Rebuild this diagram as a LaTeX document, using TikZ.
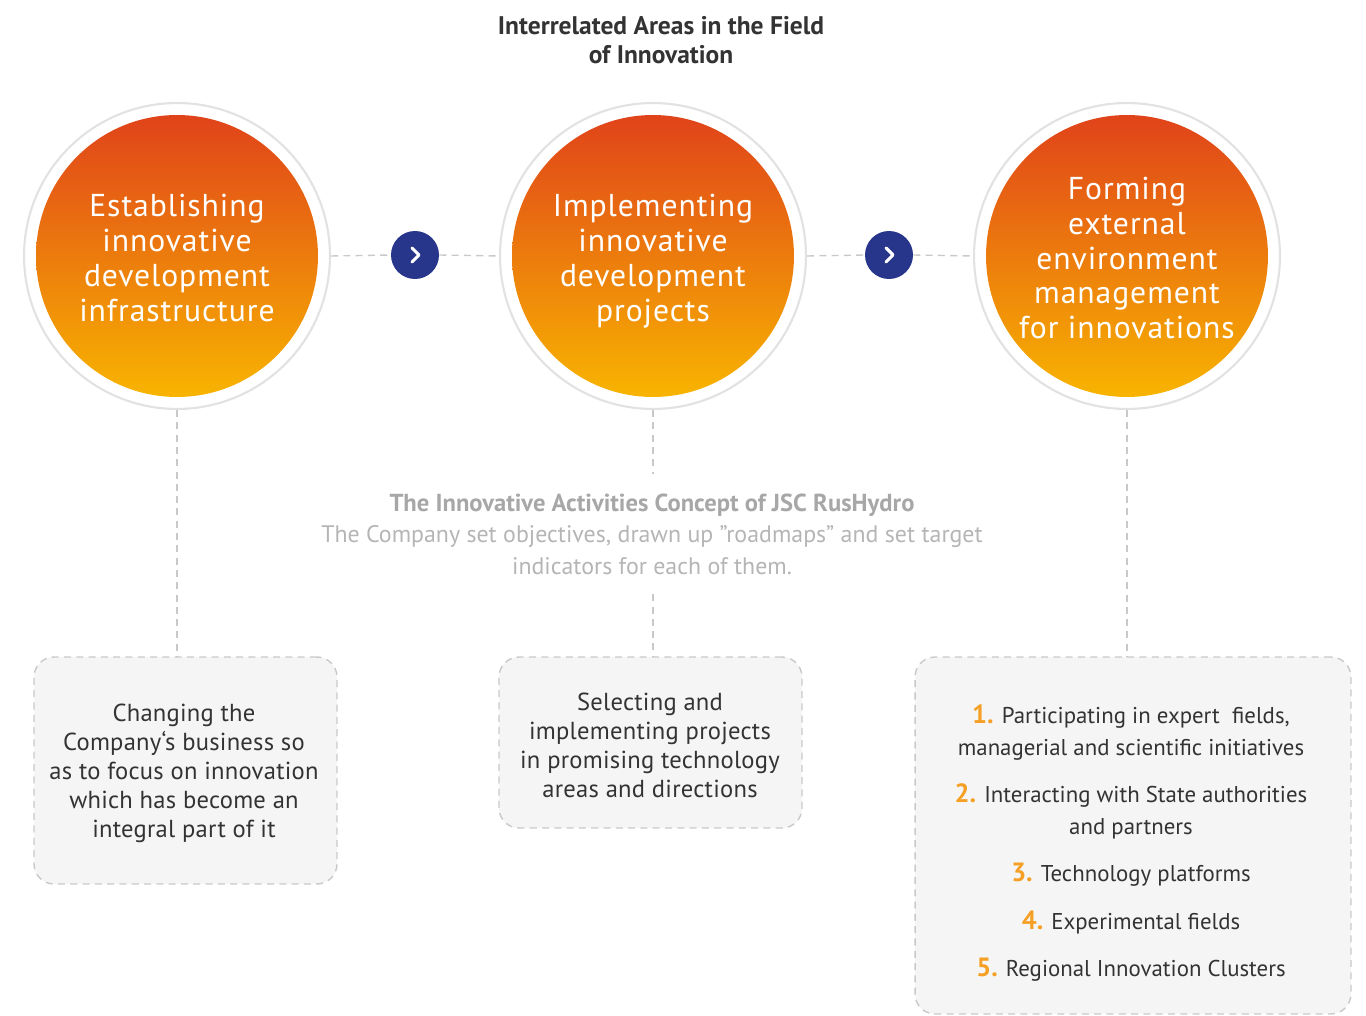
\documentclass[tikz,border=0pt]{standalone}
\usepackage{fontspec}
\setmainfont{PT Sans}
\usetikzlibrary{positioning,calc}
\definecolor{ringgray}{HTML}{E2E2E2}
\definecolor{dashgray}{HTML}{C9C9C9}
\definecolor{boxfill}{HTML}{F5F5F5}
\definecolor{navyblue}{HTML}{27358A}
\definecolor{firered}{HTML}{E0431A}
\definecolor{fireorange}{HTML}{F29A30}
\definecolor{fireyellow}{HTML}{F8B400}
\definecolor{numorange}{HTML}{F5A024}
\definecolor{textgray}{HTML}{333333}
\definecolor{notegray}{HTML}{B5B5B5}
\newcommand{\itemno}[1]{{\color{numorange}\fontsize{15}{18}\selectfont\bfseries #1.}}
\tikzset{
  ring/.style={circle,draw=ringgray,line width=1.2pt,fill=white,minimum size=6.12cm,inner sep=0pt},
  area/.style={circle,minimum size=5.64cm,inner sep=0pt,top color=firered,middle color=fireorange,bottom color=fireyellow},
  areatext/.style={align=center,text=white,font=\fontsize{18}{19.8}\selectfont\addfontfeature{LetterSpace=3}},
  chevron/.style={circle,fill=navyblue,minimum size=0.96cm,inner sep=0pt},
  link/.style={draw=dashgray,line width=0.8pt,dash pattern=on 4pt off 3pt},
  taskbox/.style={rectangle,rounded corners=0.4cm,draw=dashgray,line width=0.8pt,dash pattern=on 4pt off 3pt,
    fill=boxfill,inner sep=0pt},
  tasktext/.style={align=center,text=textgray,font=\fontsize{14}{16.5}\selectfont\addfontfeature{LetterSpace=1}}
}
\begin{document}
\begin{tikzpicture}[x=0.02cm,y=-0.02cm]
  \useasboundingbox (0,0) rectangle (1366,1016);
  \node[align=center,text=textgray,font=\fontsize{14.5}{16.4}\selectfont\bfseries] (title) at (661,40)
    {Interrelated Areas in the Field\\of Innovation};
  % circles
  \foreach \id/\x/\ty/\txt in {A/177/258/{Establishing\\innovative\\development\\infrastructure},
      B/653/261/{Implementing\\innovative\\development\\projects},
      C/1127/258/{Forming\\external\\environment\\management\\for innovations}}
    {\node[ring] (ring\id) at (\x,256) {};
     \node[area] (area\id) at (\x,256) {};
     \node[areatext] (label\id) at (\x,\ty) {\txt};}
  \node[chevron] (nextA) at (415,255) {};
  \node[chevron] (nextB) at (889,255) {};
  \foreach \id in {A,B}
    {\draw[white,line width=1.8pt,line cap=round,line join=round]
       ($(next\id)+(-3,-7)$) -- ($(next\id)+(4,0)$) -- ($(next\id)+(-3,7)$);}
  \draw[link] (ringA.east) -- (nextA.west);
  \draw[link] (nextA.east) -- (ringB.west);
  \draw[link] (ringB.east) -- (nextB.west);
  \draw[link] (nextB.east) -- (ringC.west);
  % concept note
  \node[align=center,text=notegray,inner ysep=11pt,font=\fontsize{13.6}{18}\selectfont] (note) at (652,534)
    {{\fontsize{14}{18}\selectfont\bfseries\color{notegray!92!black}The Innovative Activities Concept of JSC RusHydro}\\
     The Company set objectives, drawn up ”roadmaps” and set target\\indicators for each of them.};
  % boxes
  \node[taskbox,minimum width=6.06cm,minimum height=4.54cm] (boxA) at (185.5,770.5) {};
  \node[tasktext] (textA) at (184,773)
    {Changing the\\Company‘s business so\\as to focus on innovation\\which has become an\\integral part of it};
  \node[taskbox,minimum width=6.06cm,minimum height=3.42cm] (boxB) at (650.5,742.5) {};
  \node[tasktext] (textB) at (650,745)
    {Selecting and\\implementing projects\\in promising technology\\areas and directions};
  \node[taskbox,minimum width=8.72cm,minimum height=7.14cm] (boxC) at (1133,835.5) {};
  \node[align=center,text=textgray,font=\fontsize{13}{18}\selectfont] (listC) at (1131,843)
    {\itemno{1} Participating in expert\ \ fields,\\managerial and scientific initiatives\\[9pt]
     \itemno{2} Interacting with State authorities\\and partners\\[9pt]
     \itemno{3} Technology platforms\\[9pt]
     \itemno{4} Experimental fields\\[9pt]
     \itemno{5} Regional Innovation Clusters};
  \draw[link] (ringA.south) -- (ringA.south |- boxA.north);
  \draw[link] (ringB.south) -- (ringB.south |- note.north);
  \draw[link] (ringB.south |- note.south) -- (ringB.south |- boxB.north);
  \draw[link] (ringC.south) -- (ringC.south |- boxC.north);
\end{tikzpicture}
\end{document}
